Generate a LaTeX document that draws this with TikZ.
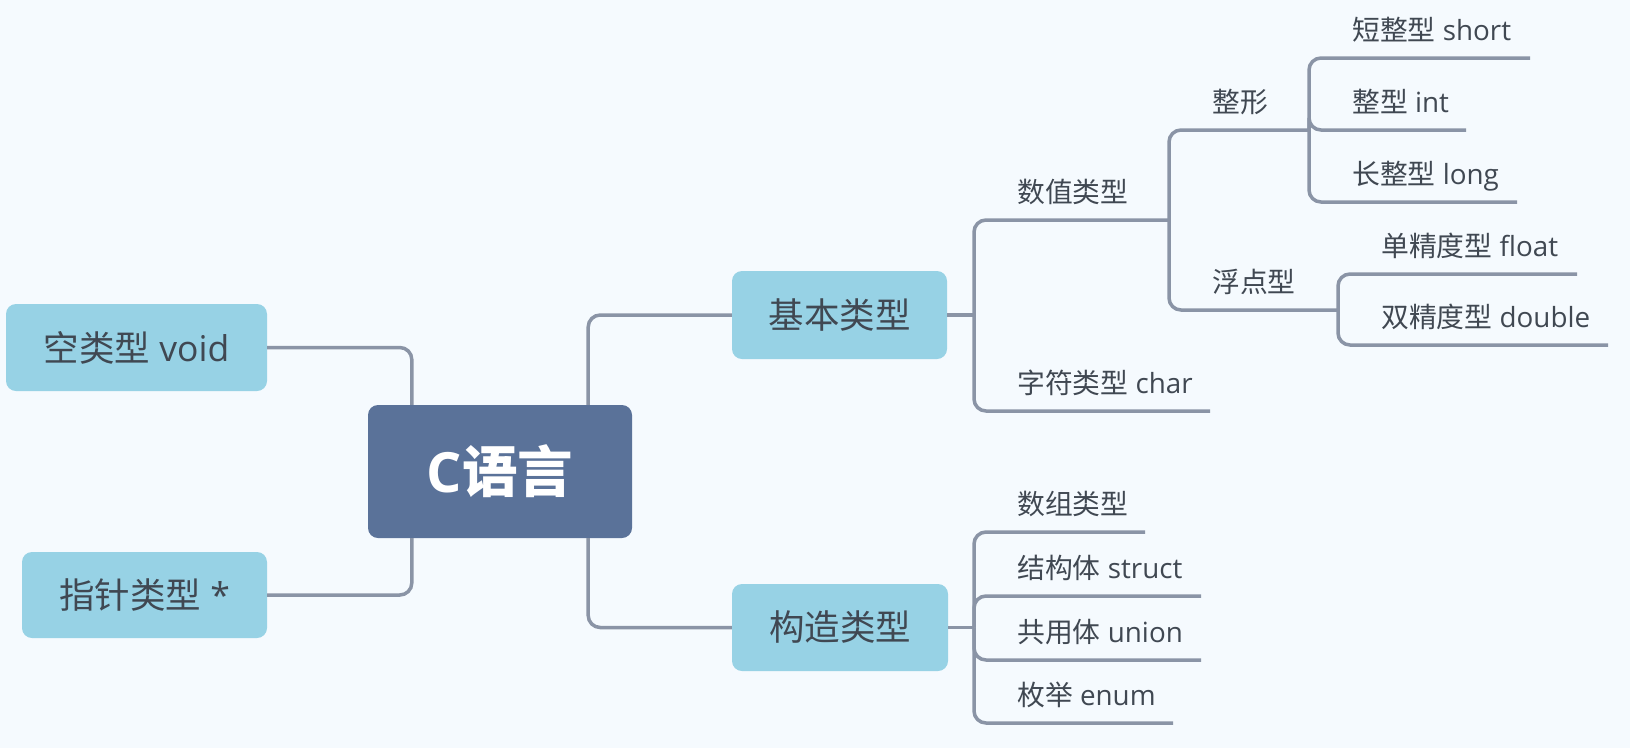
\documentclass[tikz,border=0pt]{standalone}
\usepackage{fontspec}
\setmainfont{Open Sans}
\newfontfamily\cjk{Noto Sans CJK SC}
\usetikzlibrary{calc}

\definecolor{bgcol}{HTML}{F5FAFE}
\definecolor{rootcol}{HTML}{5A7299}
\definecolor{topiccol}{HTML}{97D2E5}
\definecolor{linecol}{HTML}{8A94A6}
\definecolor{txtcol}{HTML}{404852}

\tikzset{
  link/.style={draw=linecol, line width=3.5pt, rounded corners=12pt},
  rootbox/.style={fill=rootcol, rounded corners=10pt, inner sep=0pt, text=white,
    font=\fontsize{55.5}{60}\selectfont\bfseries},
  topicbox/.style={fill=topiccol, rounded corners=10pt, inner sep=0pt, text=txtcol,
    font=\fontsize{35.5}{40}\selectfont},
  leaf/.style={anchor=base west, inner sep=0pt, text=txtcol,
    font=\fontsize{27.8}{32}\selectfont},
}

\begin{document}
\begin{tikzpicture}[x=1pt,y=-1pt]
  % canvas
  \fill[bgcol] (0,0) rectangle (1630,748);
  \useasboundingbox (0,0) rectangle (1630,748);

  % root and main topics
  \node[rootbox, minimum width=264pt, minimum height=133pt] (c) at (500,471.5)
    {C{\cjk 语言}};
  \node[topicbox, minimum width=261pt, minimum height=87pt] (void) at (136.5,347.5)
    {{\cjk 空类型} void};
  \node[topicbox, minimum width=245pt, minimum height=86pt] (ptr) at (144.5,595)
    {{\cjk 指针类型} *};
  \node[topicbox, minimum width=215pt, minimum height=88pt] (basic) at (839.5,315)
    {\cjk 基本类型};
  \node[topicbox, minimum width=216pt, minimum height=87pt] (cons) at (840,627.5)
    {\cjk 构造类型};

  \draw[link] (void.east) -| ([xshift=44pt]c.north west);
  \draw[link] ([xshift=44pt]c.south west) |- (ptr.east);
  \draw[link] ([xshift=-44pt]c.north east) |- (basic.west);
  \draw[link] ([xshift=-44pt]c.south east) |- (cons.west);

  % basic types
  \coordinate (jb) at (974,315);
  \coordinate (numE) at (1169,220);
  \coordinate (charE) at (1210,411);
  \draw[link] (basic.east) -- (jb);
  \draw[link] (jb) |- (numE);
  \draw[link] (jb) |- (charE);
  \node[leaf] (num) at (1017,202) {\cjk 数值类型};
  \node[leaf] (chr) at (1017,393) {{\cjk 字符类型} char};

  % numeric types
  \coordinate (intgE) at (1309,130);
  \coordinate (fltgE) at (1338,310);
  \draw[link] (numE) |- (intgE);
  \draw[link] (numE) |- (fltgE);
  \node[leaf] (intg) at (1212,112) {\cjk 整形};
  \node[leaf] (fltg) at (1212,292) {\cjk 浮点型};

  % integer types
  \coordinate (shortE) at (1530,58);
  \coordinate (intE) at (1466,130);
  \coordinate (longE) at (1517,202);
  \draw[link] (intgE) |- (shortE);
  \draw[link] (intgE) |- (intE);
  \draw[link] (intgE) |- (longE);
  \node[leaf] (short) at (1352,40) {{\cjk 短整型} short};
  \node[leaf] (int) at (1352,112) {{\cjk 整型} int};
  \node[leaf] (long) at (1352,184) {{\cjk 长整型} long};

  % floating point types
  \coordinate (floatE) at (1577,274);
  \coordinate (doubleE) at (1608,345);
  \draw[link] (fltgE) |- (floatE);
  \draw[link] (fltgE) |- (doubleE);
  \node[leaf] (float) at (1381,256) {{\cjk 单精度型} float};
  \node[leaf] (double) at (1381,327) {{\cjk 双精度型} double};

  % constructed types
  \coordinate (jc) at (974,627.5);
  \coordinate (arrE) at (1145,532);
  \coordinate (structE) at (1201,596);
  \coordinate (unionE) at (1201,660);
  \coordinate (enumE) at (1173,723);
  \draw[link] (cons.east) -- (jc);
  \draw[link] (jc) |- (arrE);
  \draw[link] (jc) |- (structE);
  \draw[link] (jc) |- (unionE);
  \draw[link] (jc) |- (enumE);
  \node[leaf] (arr) at (1017,514) {\cjk 数组类型};
  \node[leaf] (struct) at (1017,578) {{\cjk 结构体} struct};
  \node[leaf] (union) at (1017,642) {{\cjk 共用体} union};
  \node[leaf] (enum) at (1017,705) {{\cjk 枚举} enum};
\end{tikzpicture}
\end{document}
